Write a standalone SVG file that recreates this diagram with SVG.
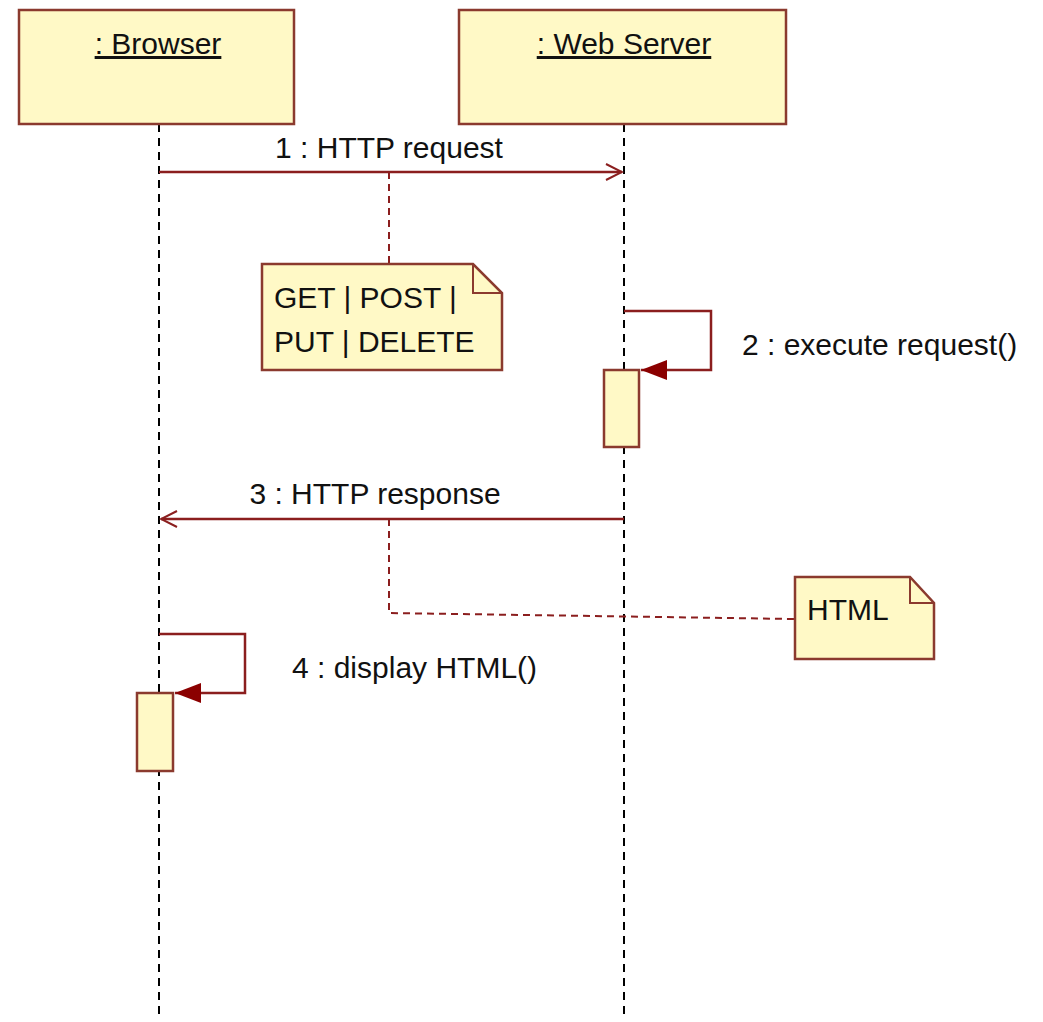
<svg xmlns="http://www.w3.org/2000/svg" width="1043" height="1022" viewBox="0 0 1043 1022">
<style>
.box{fill:#FFF9C6;stroke:#8B3A2E;stroke-width:2.5}
.life{stroke:#000;stroke-width:2;stroke-dasharray:8,6;fill:none}
.msg{stroke:#8B1E1E;stroke-width:2.5;fill:none}
.link{stroke:#8B1E1E;stroke-width:2;stroke-dasharray:7,5;fill:none}
text{font-family:"Liberation Sans","DejaVu Sans",sans-serif;font-size:30px;fill:#111}
</style>
<defs>
<marker id="open" markerWidth="20" markerHeight="20" refX="18" refY="10" orient="auto" markerUnits="userSpaceOnUse">
<path d="M2,2 L18,10 L2,18" fill="none" stroke="#8B1E1E" stroke-width="2"/>
</marker>
<marker id="filled" markerWidth="30" markerHeight="24" refX="28" refY="12" orient="auto" markerUnits="userSpaceOnUse">
<path d="M2,12 L28,2 L28,22 Z" fill="#8B0000" transform="rotate(180 15 12)"/>
</marker>
</defs>
<rect width="1043" height="1022" fill="#fff"/>
<g id="connectors">
<line class="life" x1="159" y1="124" x2="159" y2="1020"/>
<line class="life" x1="624" y1="124" x2="624" y2="1020"/>
<line class="msg" x1="159" y1="172" x2="622" y2="172" marker-end="url(#open)"/>
<line class="msg" x1="624" y1="519" x2="161" y2="519" marker-end="url(#open)"/>
<polyline class="msg" points="624,311 711,311 711,370 641,370" marker-end="url(#filled)"/>
<polyline class="msg" points="159,634 245,634 245,693 175,693" marker-end="url(#filled)"/>
<polyline class="link" points="389,172 389,263"/>
<polyline class="link" points="389,519 389,613 795,619"/>
</g>
<g id="browser">
<rect class="box" x="19" y="10" width="275" height="114"/>
<text x="158" y="54" text-anchor="middle" text-decoration="underline">: Browser</text>
</g>
<g id="webserver">
<rect class="box" x="459" y="10" width="327" height="114"/>
<text x="624" y="54" text-anchor="middle" text-decoration="underline">: Web Server</text>
</g>
<g id="activation-server">
<rect class="box" x="604" y="370" width="35" height="77"/>
</g>
<g id="activation-browser">
<rect class="box" x="137" y="693" width="36" height="78"/>
</g>
<g id="note-methods">
<path class="box" d="M262,264 H473 L502,293 V370 H262 Z"/>
<path d="M473,264 V293 H502" fill="none" stroke="#8B3A2E" stroke-width="2"/>
<text x="274" y="308">GET | POST |</text>
<text x="274" y="352">PUT | DELETE</text>
</g>
<g id="note-html">
<path class="box" d="M795,577 H910 L934,603 V659 H795 Z"/>
<path d="M910,577 V603 H934" fill="none" stroke="#8B3A2E" stroke-width="2"/>
<text x="807" y="620">HTML</text>
</g>
<g id="labels">
<text x="389" y="158" text-anchor="middle">1 : HTTP request</text>
<text x="742" y="355">2 : execute request()</text>
<text x="375" y="504" text-anchor="middle">3 : HTTP response</text>
<text x="292" y="678">4 : display HTML()</text>
</g>
</svg>
